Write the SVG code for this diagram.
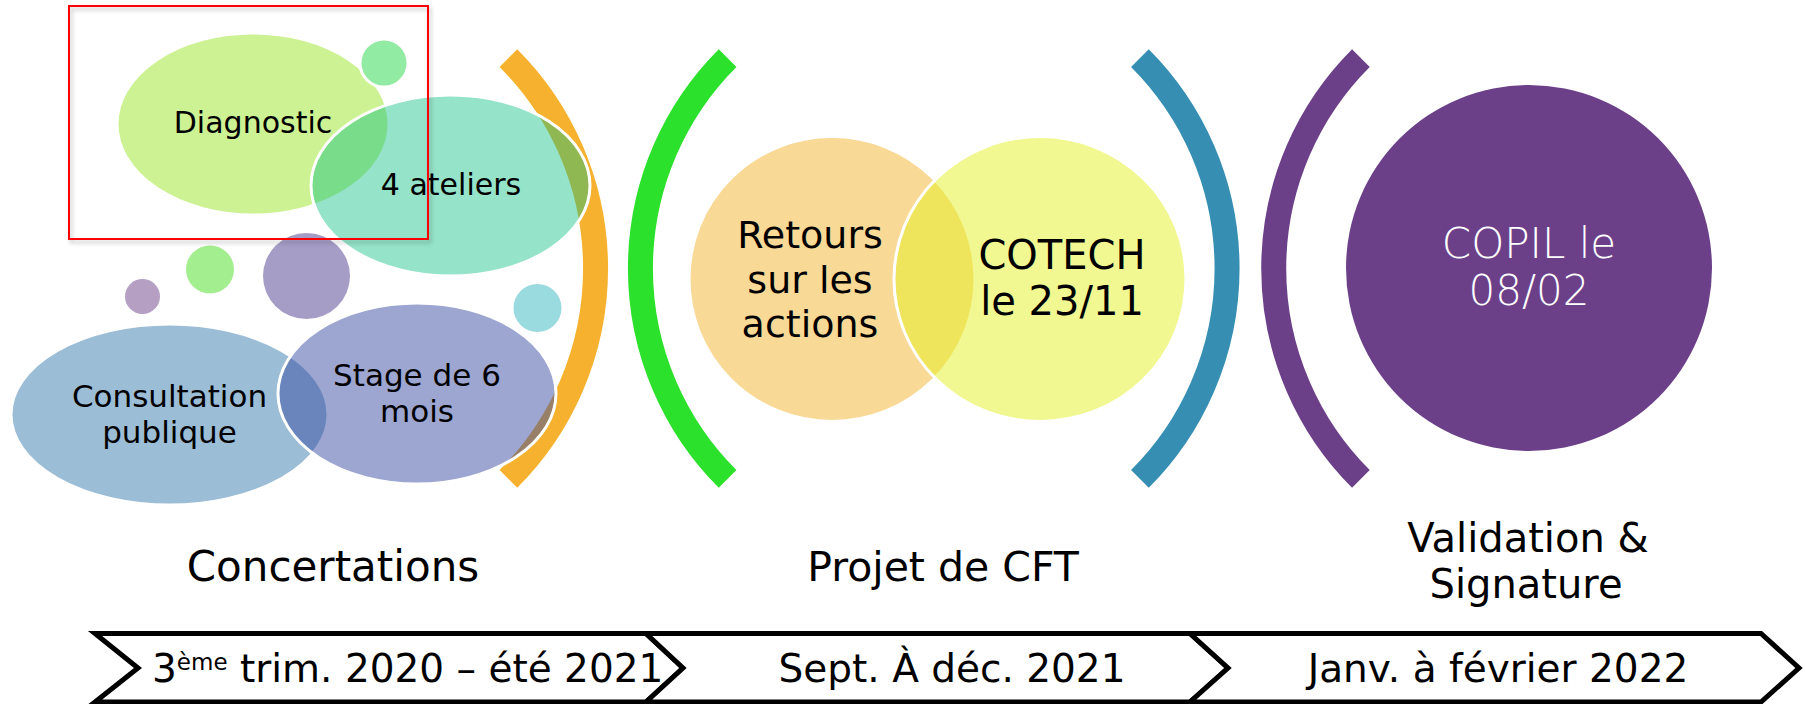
<svg xmlns="http://www.w3.org/2000/svg" width="1805" height="704" viewBox="0 0 1805 704">
<defs>
<filter id="shadow" x="-5%" y="-5%" width="110%" height="110%">
<feDropShadow dx="2" dy="3" stdDeviation="2" flood-color="#000" flood-opacity="0.25"/>
</filter>
</defs>
<style>
text{font-family:"DejaVu Sans","Liberation Sans",sans-serif;fill:#000;text-anchor:middle}
.bub{stroke:#fff;stroke-width:3}
.arc{fill:none;stroke-width:25;stroke-linecap:butt}
.chev{fill:#fff;stroke:#000;stroke-width:5;stroke-linejoin:miter}
.s30{font-size:30px}
.s31{font-size:31px}
.s38{font-size:38px}
.s40{font-size:40px}
.s41{font-size:41px}
.s42{font-size:42px}
.t39{font-size:39px}
</style>
<rect width="1805" height="704" fill="#fff"/>

<g id="brackets">
<path class="arc" stroke="#f6b22e" d="M 508.4 58.1 A 297.5 297.5 0 0 1 508.4 478.9"/>
<path class="arc" stroke="#2be12b" d="M 727.6 58.1 A 297.5 297.5 0 0 0 727.6 478.9"/>
<path class="arc" stroke="#368fb3" d="M 1139.9 58.1 A 297.5 297.5 0 0 1 1139.9 478.9"/>
<path class="arc" stroke="#6b4089" d="M 1360.9 58.1 A 297.5 297.5 0 0 0 1360.9 478.9"/>
</g>

<g id="concertations">
<g id="diagnostic">
<ellipse class="bub" cx="253" cy="124" rx="136" ry="91" fill="#cdf293"/>
<text class="s30" x="253" y="133">Diagnostic</text>
</g>
<circle id="dot-green-top" class="bub" cx="384" cy="63" r="24" fill="#92eba3"/>
<g id="ateliers">
<ellipse class="bub" cx="450.5" cy="185.5" rx="139.5" ry="90.5" fill="rgb(14,191,130)" fill-opacity="0.44"/>
<text class="s30" x="451" y="195">4 ateliers</text>
</g>
<circle id="dot-green" cx="210" cy="269.5" r="24" fill="#a3ee8f"/>
<circle id="dot-purple-small" cx="142.5" cy="296.5" r="17.5" fill="#b5a0c4"/>
<ellipse id="dot-purple" cx="306.5" cy="276" rx="43.5" ry="43" fill="#a69dc7"/>
<circle id="dot-cyan" cx="537.5" cy="308" r="24" fill="#9adbdf"/>
<g id="consultation">
<ellipse class="bub" cx="169.5" cy="414.5" rx="158.5" ry="90.5" fill="#9bbdd6"/>
<text class="s31" x="169.5" y="407">Consultation</text>
<text class="s31" x="169.5" y="443">publique</text>
</g>
<g id="stage">
<ellipse class="bub" cx="417" cy="393.5" rx="139" ry="90.5" fill="rgb(57,77,161)" fill-opacity="0.5"/>
<text class="s31" x="417" y="386">Stage de 6</text>
<text class="s31" x="417" y="422">mois</text>
</g>
<rect id="highlight" x="69" y="6" width="359" height="233" fill="none" stroke="#ff0000" stroke-width="2" filter="url(#shadow)"/>
</g>

<g id="projet">
<g id="retours">
<ellipse class="bub" cx="832" cy="279" rx="143" ry="142.5" fill="#f9d996"/>
<text class="s38" x="810" y="248">Retours</text>
<text class="s38" x="810" y="293">sur les</text>
<text class="s38" x="810" y="337">actions</text>
</g>
<g id="cotech">
<ellipse class="bub" cx="1040" cy="279" rx="146" ry="142.5" fill="rgb(227,241,35)" fill-opacity="0.5"/>
<text class="s40" x="1062" y="269">COTECH</text>
<text class="s40" x="1062" y="315">le 23/11</text>
</g>
</g>

<g id="copil">
<circle cx="1529" cy="268" r="183" fill="#6b4089"/>
<text class="s42" x="1529" y="258" style="fill:#fff;font-weight:300">COPIL le</text>
<text class="s42" x="1529" y="305" style="fill:#fff;font-weight:300">08/02</text>
</g>

<g id="labels">
<text id="label-concertations" class="s42" x="333" y="581">Concertations</text>
<text id="label-projet" class="s41" x="943" y="581">Projet de CFT</text>
<g id="label-validation">
<text class="s40" x="1528" y="552">Validation &amp;</text>
<text class="s40" x="1526" y="598">Signature</text>
</g>
</g>

<g id="timeline">
<g id="chevron-1">
<polygon class="chev" points="95,633.5 646,633.5 683,668 646,702 95,702 138,668"/>
<text class="t39" x="152" y="682" style="text-anchor:start">3<tspan font-size="23" dy="-12">ème</tspan><tspan dy="12"> trim. 2020 – été 2021</tspan></text>
</g>
<g id="chevron-2">
<polygon class="chev" points="646,633.5 1190,633.5 1228,668 1190,702 646,702 683,668"/>
<text class="t39" x="952" y="682">Sept. À déc. 2021</text>
</g>
<g id="chevron-3">
<polygon class="chev" points="1190,633.5 1761,633.5 1799,668 1761,702 1190,702 1228,668"/>
<text class="t39" x="1498" y="682">Janv. à février 2022</text>
</g>
</g>
</svg>
